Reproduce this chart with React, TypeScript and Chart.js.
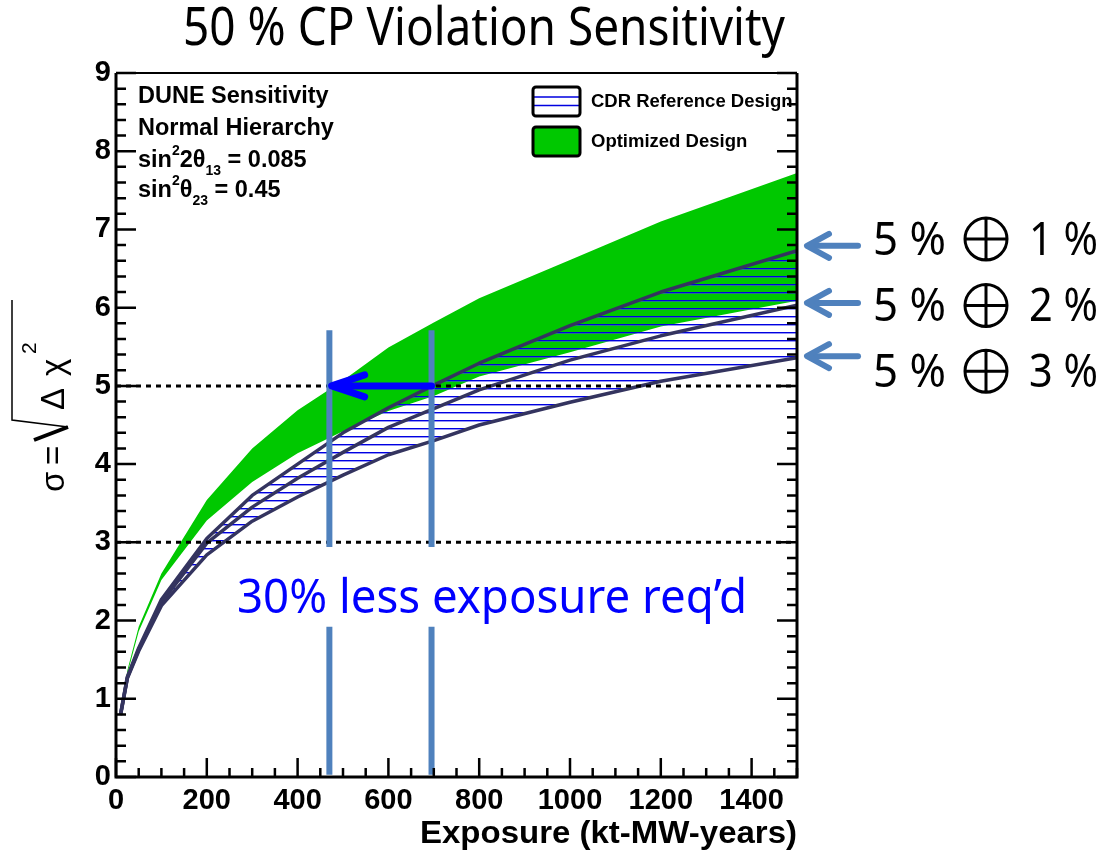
import React, { useEffect, useRef } from 'react';
import { Chart, registerables } from 'chart.js';

Chart.register(...registerables);

// ---------------- data ----------------
const exposure = [10, 25, 50, 100, 200, 300, 400, 500, 600, 700, 800, 1000, 1200, 1500];
const cdrSyst1 = [0.8, 1.28, 1.65, 2.27, 3.05, 3.6, 4.0, 4.4, 4.72, 5.01, 5.29, 5.77, 6.2, 6.73];
const cdrSyst2 = [0.8, 1.27, 1.63, 2.23, 2.99, 3.45, 3.82, 4.15, 4.47, 4.71, 4.95, 5.33, 5.64, 6.03];
const cdrSyst3 = [0.79, 1.26, 1.61, 2.19, 2.84, 3.27, 3.58, 3.86, 4.12, 4.3, 4.5, 4.79, 5.06, 5.36];
const optUpper = [0.8, 1.36, 1.92, 2.6, 3.54, 4.2, 4.69, 5.07, 5.49, 5.81, 6.12, 6.61, 7.1, 7.72];
const optLower = [0.8, 1.32, 1.86, 2.52, 3.28, 3.77, 4.14, 4.42, 4.68, 4.87, 5.12, 5.43, 5.76, 6.09];

const thresholds = [3, 5];
const markerExposure = [470, 695];
const markerTop = 5.71;
const markerGap = [1.92, 2.94];
const markerBottom = 0.03;
const arrowFrom = 695;
const arrowTo = 475;
const arrowLevel = 5;

const titleText = '50 % CP Violation Sensitivity';
const noteText = '30% less exposure req\u2019d';
const xTitle = 'Exposure (kt-MW-years)';
const legendLabels = ['CDR Reference Design', 'Optimized Design'];
const systLeft = '5 %';
const systRight = ['1 %', '2 %', '3 %'];
const systTextY = [6.89, 6.04, 5.2];
const systArrowY = [6.79, 6.06, 5.38];

const ROOT = '"Liberation Sans", Arial, sans-serif';
const CAL = '"Noto Sans", "Open Sans", sans-serif';

const GREEN = 'rgb(0,200,0)';
const LINE = '#34345f';
const STEEL = '#4f81bd';

function fitText(ctx: CanvasRenderingContext2D, text: string, x: number, y: number, font: string, width: number) {
  ctx.save();
  ctx.font = font;
  ctx.textAlign = 'left';
  ctx.textBaseline = 'alphabetic';
  const w = ctx.measureText(text).width;
  ctx.translate(x, y);
  ctx.scale(width / w, 1);
  ctx.fillText(text, 0, 0);
  ctx.restore();
}

type Run = { t: string; size: number; dy: number };
function drawRuns(ctx: CanvasRenderingContext2D, runs: Run[], x: number, y: number) {
  let cx = x;
  runs.forEach((r) => {
    ctx.font = `bold ${r.size}px ${ROOT}`;
    ctx.fillText(r.t, cx, y + r.dy);
    cx += ctx.measureText(r.t).width;
  });
}

function makeHatch(): CanvasPattern | string {
  const c = document.createElement('canvas');
  c.width = 8;
  c.height = 8;
  const g = c.getContext('2d');
  if (!g) return 'rgba(0,0,255,0.3)';
  g.fillStyle = '#0000e0';
  g.fillRect(0, 4, 8, 1);
  g.fillStyle = 'rgba(60,60,240,0.55)';
  g.fillRect(0, 5, 8, 1);
  const p = g.createPattern(c, 'repeat');
  return p || 'rgba(0,0,255,0.3)';
}

const overlay = {
  id: 'overlay',
  beforeDraw(chart: any) {
    const { ctx, width, height } = chart;
    ctx.save();
    ctx.fillStyle = '#fff';
    ctx.fillRect(0, 0, width, height);
    ctx.restore();
  },
  afterDatasetsDraw(chart: any) {
    const { ctx, chartArea: a, scales } = chart;
    const x = scales.x;
    const y = scales.y;
    ctx.save();
    // dotted sigma levels
    ctx.strokeStyle = '#000';
    ctx.lineWidth = 3;
    ctx.setLineDash([5, 5]);
    thresholds.forEach((t) => {
      const py = y.getPixelForValue(t);
      ctx.beginPath();
      ctx.moveTo(a.left, py);
      ctx.lineTo(a.right, py);
      ctx.stroke();
    });
    ctx.setLineDash([]);
    // vertical markers
    ctx.strokeStyle = STEEL;
    ctx.lineWidth = 6;
    ctx.lineCap = 'butt';
    markerExposure.forEach((m) => {
      const px = x.getPixelForValue(m);
      ctx.beginPath();
      ctx.moveTo(px, y.getPixelForValue(markerTop));
      ctx.lineTo(px, y.getPixelForValue(markerGap[1]));
      ctx.moveTo(px, y.getPixelForValue(markerGap[0]));
      ctx.lineTo(px, y.getPixelForValue(markerBottom));
      ctx.stroke();
    });
    // blue arrow
    const ay = y.getPixelForValue(arrowLevel);
    const x0 = x.getPixelForValue(arrowFrom);
    const x1 = x.getPixelForValue(arrowTo);
    ctx.strokeStyle = '#0000ff';
    ctx.lineWidth = 7;
    ctx.lineCap = 'round';
    ctx.lineJoin = 'round';
    ctx.beginPath();
    ctx.moveTo(x0, ay);
    ctx.lineTo(x1 + 4, ay);
    ctx.stroke();
    ctx.beginPath();
    ctx.moveTo(x1 + 33, ay - 11);
    ctx.lineTo(x1, ay);
    ctx.lineTo(x1 + 33, ay + 11);
    ctx.stroke();
    // note
    ctx.fillStyle = '#0000ff';
    fitText(ctx, noteText, 237, 613, `48px ${CAL}`, 510);
    ctx.restore();
  },
  afterDraw(chart: any) {
    const { ctx, chartArea: a, scales } = chart;
    const x = scales.x;
    const y = scales.y;
    ctx.save();
    ctx.fillStyle = '#000';
    ctx.strokeStyle = '#000';
    // frame
    ctx.lineWidth = 3;
    ctx.beginPath();
    ctx.moveTo(a.left, a.top);
    ctx.lineTo(a.left, a.bottom);
    ctx.lineTo(a.right, a.bottom);
    ctx.lineTo(a.right, a.top);
    ctx.stroke();
    ctx.lineWidth = 2;
    ctx.beginPath();
    ctx.moveTo(a.left, a.top);
    ctx.lineTo(a.right, a.top);
    ctx.stroke();
    // ticks
    ctx.lineWidth = 2.5;
    ctx.lineCap = 'butt';
    ctx.beginPath();
    for (let i = 0; i <= 45; i++) {
      const py = y.getPixelForValue(i * 0.2);
      const len = i % 5 === 0 ? 20 : 10;
      ctx.moveTo(a.left, py);
      ctx.lineTo(a.left + len, py);
      ctx.moveTo(a.right, py);
      ctx.lineTo(a.right - len, py);
    }
    for (let i = 0; i <= 30; i++) {
      const v = i * 50;
      const px = x.getPixelForValue(v);
      const len = v % 200 === 0 ? 19 : 9;
      ctx.moveTo(px, a.bottom);
      ctx.lineTo(px, a.bottom - len);
    }
    ctx.stroke();

    // title
    fitText(ctx, titleText, 183, 45, `52px ${CAL}`, 602);

    // info text
    ctx.textAlign = 'left';
    ctx.textBaseline = 'alphabetic';
    const ix = a.left + 22;
    ctx.font = `bold 23.5px ${ROOT}`;
    ctx.fillText('DUNE Sensitivity', ix, 103);
    ctx.fillText('Normal Hierarchy', ix, 135);
    drawRuns(ctx, [
      { t: 'sin', size: 23.5, dy: 0 },
      { t: '2', size: 14, dy: -12 },
      { t: '2\u03b8', size: 23.5, dy: 0 },
      { t: '13', size: 14, dy: 8 },
      { t: ' = 0.085', size: 23.5, dy: 0 },
    ], ix, 167);
    drawRuns(ctx, [
      { t: 'sin', size: 23.5, dy: 0 },
      { t: '2', size: 14, dy: -12 },
      { t: '\u03b8', size: 23.5, dy: 0 },
      { t: '23', size: 14, dy: 8 },
      { t: ' = 0.45', size: 23.5, dy: 0 },
    ], ix, 197);

    // legend
    const lx = 533;
    const boxes = [87, 127];
    ctx.fillStyle = '#fff';
    ctx.fillRect(lx, boxes[0], 47, 29);
    ctx.strokeStyle = '#0000e0';
    ctx.lineWidth = 1.5;
    ctx.beginPath();
    ctx.moveTo(lx, boxes[0] + 10);
    ctx.lineTo(lx + 47, boxes[0] + 10);
    ctx.moveTo(lx, boxes[0] + 18.5);
    ctx.lineTo(lx + 47, boxes[0] + 18.5);
    ctx.stroke();
    ctx.fillStyle = GREEN;
    ctx.fillRect(lx, boxes[1], 47, 29);
    ctx.strokeStyle = '#000';
    ctx.lineWidth = 3;
    boxes.forEach((b) => {
      ctx.beginPath();
      (ctx as any).roundRect ? (ctx as any).roundRect(lx, b, 47, 29, 3) : ctx.rect(lx, b, 47, 29);
      ctx.stroke();
    });
    ctx.fillStyle = '#000';
    ctx.font = `bold 18.5px ${ROOT}`;
    ctx.fillText(legendLabels[0], 591, 107);
    ctx.fillText(legendLabels[1], 591, 147);

    // x title
    fitText(ctx, xTitle, a.right - 377, 843, `bold 31px ${ROOT}`, 377);

    // y title (rotated)
    ctx.save();
    ctx.translate(64, 492);
    ctx.rotate(-Math.PI / 2);
    ctx.fillStyle = '#000';
    ctx.strokeStyle = '#000';
    ctx.font = `33px ${ROOT}`;
    ctx.textAlign = 'left';
    ctx.textBaseline = 'alphabetic';
    ctx.fillText('\u03c3', 0, 0);
    ctx.fillText('=', 27, 0);
    ctx.lineCap = 'butt';
    ctx.lineWidth = 4;
    ctx.beginPath();
    ctx.moveTo(52, -30);
    ctx.lineTo(65, 4);
    ctx.stroke();
    ctx.lineWidth = 1.5;
    ctx.beginPath();
    ctx.moveTo(65, 4);
    ctx.lineTo(72, -52);
    ctx.lineTo(192, -52);
    ctx.stroke();
    ctx.fillText('\u0394', 82, 0);
    ctx.fillText('\u03c7', 116, 0);
    ctx.font = `21px ${ROOT}`;
    ctx.fillText('2', 138, -28);
    ctx.restore();

    // systematics annotations
    systRight.forEach((lab, i) => {
      const ty = y.getPixelForValue(systTextY[i]);
      const ay = y.getPixelForValue(systArrowY[i]);
      ctx.strokeStyle = STEEL;
      ctx.lineWidth = 6;
      ctx.lineCap = 'round';
      ctx.lineJoin = 'round';
      const tip = a.right + 10;
      ctx.beginPath();
      ctx.moveTo(a.right + 61, ay);
      ctx.lineTo(tip + 3, ay);
      ctx.stroke();
      ctx.beginPath();
      ctx.moveTo(tip + 22, ay - 12);
      ctx.lineTo(tip, ay);
      ctx.lineTo(tip + 22, ay + 12);
      ctx.stroke();
      ctx.fillStyle = '#000';
      fitText(ctx, systLeft, 873, ty + 16.5, `46px ${CAL}`, 73);
      fitText(ctx, lab, 1029, ty + 16.5, `46px ${CAL}`, 69);
      ctx.strokeStyle = '#000';
      ctx.lineWidth = 3;
      ctx.lineCap = 'butt';
      const cx = 986;
      ctx.beginPath();
      ctx.arc(cx, ty + 1, 21, 0, Math.PI * 2);
      ctx.moveTo(cx - 21, ty + 1);
      ctx.lineTo(cx + 21, ty + 1);
      ctx.moveTo(cx, ty - 20);
      ctx.lineTo(cx, ty + 22);
      ctx.stroke();
    });
    ctx.restore();
  },
};

export default function App() {
  const ref = useRef<HTMLCanvasElement | null>(null);
  useEffect(() => {
    if (!ref.current) return;
    const pts = (ys: number[]) => exposure.map((e, i) => ({ x: e, y: ys[i] }));
    const base = { pointRadius: 0, tension: 0, borderJoinStyle: 'round' as const };
    const tickFont = { family: ROOT, size: 29, weight: 'bold' as const };
    const chart = new Chart(ref.current, {
      type: 'line',
      data: {
        datasets: [
          { ...base, label: '5% (+) 1%', data: pts(cdrSyst1), borderColor: LINE, borderWidth: 3.5, fill: false },
          { ...base, label: '5% (+) 2%', data: pts(cdrSyst2), borderColor: LINE, borderWidth: 3.5, fill: false },
          { ...base, label: '5% (+) 3%', data: pts(cdrSyst3), borderColor: LINE, borderWidth: 3.5, fill: 0, backgroundColor: makeHatch() as any },
          { ...base, label: 'Optimized upper', data: pts(optUpper), borderWidth: 0, borderColor: GREEN, fill: '+1', backgroundColor: GREEN },
          { ...base, label: 'Optimized lower', data: pts(optLower), borderWidth: 0, borderColor: GREEN, fill: false },
        ],
      },
      options: {
        responsive: false,
        animation: false,
        devicePixelRatio: 1,
        layout: { padding: { left: 0, top: 73, right: 311, bottom: 0 } },
        plugins: { legend: { display: false }, title: { display: false }, tooltip: { enabled: false } },
        scales: {
          x: {
            type: 'linear',
            min: 0,
            max: 1500,
            ticks: {
              stepSize: 200, includeBounds: false, autoSkip: false, maxRotation: 0, padding: 7, color: '#000', font: tickFont,
              callback: (v: any) => String(v),
            },
            grid: { display: false, drawTicks: false },
            border: { display: false },
            afterFit: (s: any) => { s.height = 76; },
          },
          y: {
            type: 'linear',
            min: 0,
            max: 9,
            ticks: {
              stepSize: 1, includeBounds: false, padding: 5, color: '#000', font: tickFont,
              callback: (v: any) => String(v),
            },
            grid: { display: false, drawTicks: false },
            border: { display: false },
            afterFit: (s: any) => { s.width = 116; },
          },
        },
      } as any,
      plugins: [overlay],
    });
    return () => chart.destroy();
  }, []);
  return (
    <div style={{ position: 'fixed', left: 0, top: 0, width: 1108, height: 853, background: '#fff' }}>
      <canvas ref={ref} width={1108} height={853} style={{ display: 'block' }} />
    </div>
  );
}
